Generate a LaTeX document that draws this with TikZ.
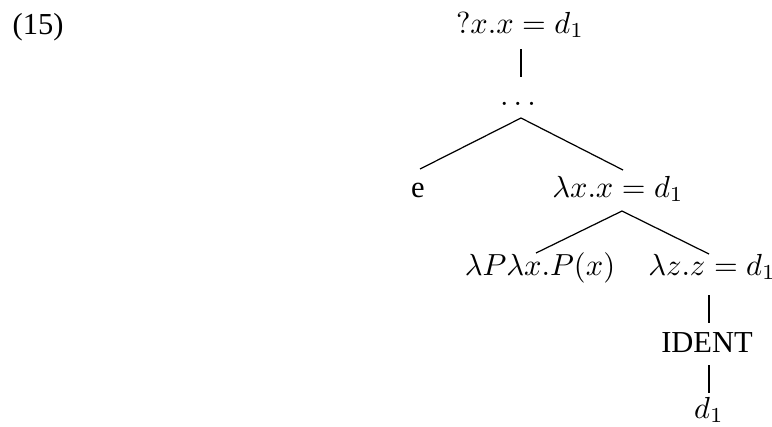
\documentclass[tikz,border=0pt]{standalone}
\usepackage{fontspec}
\setmainfont{Liberation Serif}
\begin{document}
\begin{tikzpicture}[x=0.328pt,y=-0.328pt,
  lbl/.style={inner sep=0pt, anchor=base},
  edge/.style={line width=0.4pt, black}]
\useasboundingbox (0,0) rectangle (772,426);
% labels
\node[lbl, anchor=base west] (ex) at (12,34) {(15)};
\node[lbl] (root) at (520,33) {$?x.x = d_1$};
\node[lbl] (dots) at (518,105) {$\ldots$};
\node[lbl] (e) at (418,197) {e};
\node[lbl] (lx) at (618,197) {$\lambda x.x = d_1$};
\node[lbl] (lp) at (540,275) {$\lambda P\lambda x.P(x)$};
\node[lbl] (lz) at (712,275) {$\lambda z.z = d_1$};
\node[lbl] (ident) at (707,352) {IDENT};
\node[lbl] (d) at (709,418) {$d_1$};
% connector end points
\coordinate (root-b) at (521,49);
\coordinate (dots-t) at (521,77);
\coordinate (dots-b) at (521,118);
\coordinate (e-t) at (420,169);
\coordinate (lx-t) at (623,170);
\coordinate (lx-b) at (622,211);
\coordinate (lp-t) at (536,253);
\coordinate (lz-t) at (709,254);
\coordinate (lz-b) at (709,295);
\coordinate (ident-t) at (709,323);
\coordinate (ident-b) at (709,365);
\coordinate (d-t) at (709,393);
% connectors
\draw[edge] (root-b) -- (dots-t);
\draw[edge] (dots-b) -- (e-t);
\draw[edge] (dots-b) -- (lx-t);
\draw[edge] (lx-b) -- (lp-t);
\draw[edge] (lx-b) -- (lz-t);
\draw[edge] (lz-b) -- (ident-t);
\draw[edge] (ident-b) -- (d-t);
\end{tikzpicture}
\end{document}
